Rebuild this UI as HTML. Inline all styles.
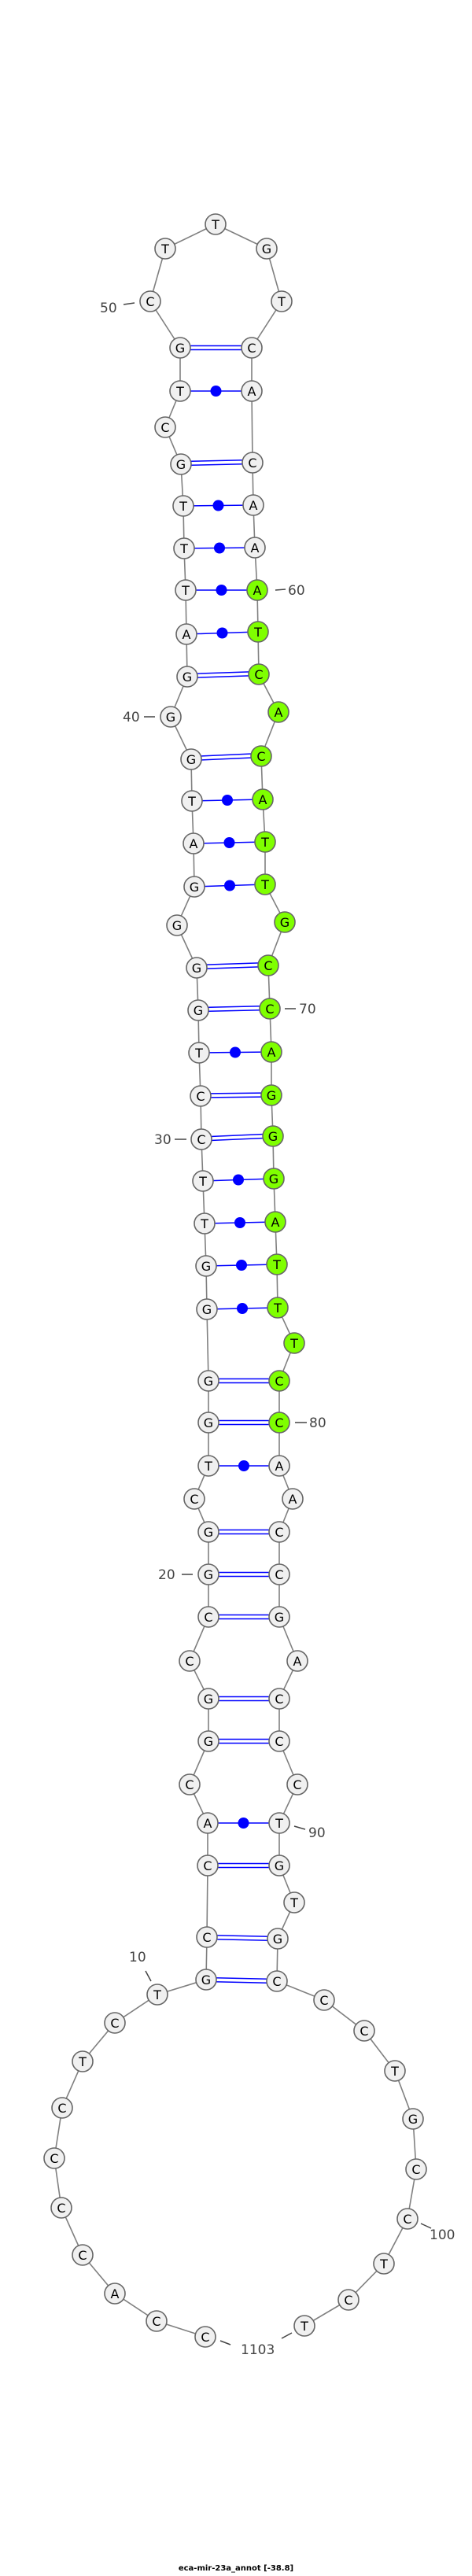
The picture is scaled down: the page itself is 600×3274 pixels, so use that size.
<!DOCTYPE html>
<html><head><meta charset="utf-8"><style>
html,body{margin:0;padding:0;background:#fff;}
svg{display:block;}
.b{fill:none;stroke:#808080;stroke-width:1.6;}
.n circle{fill:#f0f0f0;stroke:#666;stroke-width:1.6;}
.n circle.g{fill:#7fff00;}
.n text{font-family:"DejaVu Sans","Liberation Sans",sans-serif;font-size:16px;text-anchor:middle;fill:#000;}
.p{stroke:#0000ff;stroke-width:1.5;}
.d{fill:#0000ff;}
.l{font-family:"DejaVu Sans","Liberation Sans",sans-serif;font-size:17px;fill:#444;}
.t{stroke:#444;stroke-width:1.5;}
</style></head><body>
<svg width="600" height="3274" viewBox="0 0 600 3274" xmlns="http://www.w3.org/2000/svg">
<polyline class="b" points="261,2970 199,2950 146,2915 105,2866 78,2806 69,2743 79,2679 105,2620 146,2571 200,2535 262,2516 263,2462 264,2371 264,2317 241,2268 265,2213 265,2159 241,2111 265,2055 265,2001 265,1947 247,1905 265,1863 265,1808 265,1755 263,1664 262,1609 260,1555 258,1501 256,1448 255,1393 253,1338 252,1284 250,1230 225,1176 247,1127 246,1072 244,1018 243,965 217,911 238,860 237,806 236,750 234,697 233,643 230,590 210,543 229,497 229,442 191,383 210,316 274,285 339,316 358,383 320,442 320,497 321,588 322,642 324,696 327,750 328,803 329,857 354,905 332,961 334,1016 337,1070 337,1124 362,1172 341,1227 343,1282 345,1337 345,1392 347,1444 348,1498 350,1553 352,1607 353,1662 374,1707 355,1755 355,1808 355,1863 372,1905 355,1947 355,2001 355,2055 378,2111 355,2159 355,2213 378,2268 355,2317 355,2371 374,2418 353,2464 352,2518 412,2542 463,2581 502,2632 525,2693 529,2757 518,2820 488,2877 443,2923 387,2956"/>
<g>
<path class="p" fill="none" d="
M229,439.5L320,439.5M229,444.5L320,444.5
M230,586.5L321,584.5M230,591.5L321,589.5
M238,856.5L329,853.5M238,861.5L329,858.5
M243,961.5L332,957.5M243,966.5L332,962.5
M250,1226.5L341,1223.5M250,1231.5L341,1228.5
M252,1280.5L343,1278.5M252,1285.5L343,1283.5
M255,1390L345,1389M255,1395L345,1394
M256,1445L347,1441M256,1450L347,1446
M265,1752.5L355,1752.5M265,1757.5L355,1757.5
M265,1805.5L355,1805.5M265,1810.5L355,1810.5
M265,1944.5L355,1944.5M265,1949.5L355,1949.5
M265,1998.5L355,1998.5M265,2003.5L355,2003.5
M265,2052.5L355,2052.5M265,2057.5L355,2057.5
M265,2156.5L355,2156.5M265,2161.5L355,2161.5
M265,2210.5L355,2210.5M265,2215.5L355,2215.5
M264,2368.5L355,2368.5M264,2373.5L355,2373.5
M263,2459.5L353,2461.5M263,2464.5L353,2466.5
M262,2513.5L352,2515.5M262,2518.5L352,2520.5"/>
<path class="p" fill="none" d="
M229,497L320,497 M233,643L322,642 M234,697L324,696 M236,750L327,750 M237,806L328,803
M244,1018L334,1016 M246,1072L337,1070 M247,1127L337,1124 M253,1338L345,1337
M258,1501L348,1498 M260,1555L350,1553 M262,1609L352,1607 M263,1664L353,1662
M265,1863L355,1863 M264,2317L355,2317"/>
<circle class="d" cx="274.5" cy="497" r="7"/>
<circle class="d" cx="277.5" cy="642.5" r="7"/>
<circle class="d" cx="279" cy="696.5" r="7"/>
<circle class="d" cx="281.5" cy="750" r="7"/>
<circle class="d" cx="282.5" cy="804.5" r="7"/>
<circle class="d" cx="289" cy="1017" r="7"/>
<circle class="d" cx="291.5" cy="1071" r="7"/>
<circle class="d" cx="292" cy="1125.5" r="7"/>
<circle class="d" cx="299" cy="1337.5" r="7"/>
<circle class="d" cx="303" cy="1499.5" r="7"/>
<circle class="d" cx="305" cy="1554" r="7"/>
<circle class="d" cx="307" cy="1608" r="7"/>
<circle class="d" cx="308" cy="1663" r="7"/>
<circle class="d" cx="310" cy="1863" r="7"/>
<circle class="d" cx="309.5" cy="2317" r="7"/>
</g>
<g class="n">
<circle cx="261" cy="2970" r="13"/><text x="261" y="2976">C</text>
<circle cx="199" cy="2950" r="13"/><text x="199" y="2956">C</text>
<circle cx="146" cy="2915" r="13"/><text x="146" y="2921">A</text>
<circle cx="105" cy="2866" r="13"/><text x="105" y="2872">C</text>
<circle cx="78" cy="2806" r="13"/><text x="78" y="2812">C</text>
<circle cx="69" cy="2743" r="13"/><text x="69" y="2749">C</text>
<circle cx="79" cy="2679" r="13"/><text x="79" y="2685">C</text>
<circle cx="105" cy="2620" r="13"/><text x="105" y="2626">T</text>
<circle cx="146" cy="2571" r="13"/><text x="146" y="2577">C</text>
<circle cx="200" cy="2535" r="13"/><text x="200" y="2541">T</text>
<circle cx="262" cy="2516" r="13"/><text x="262" y="2522">G</text>
<circle cx="263" cy="2462" r="13"/><text x="263" y="2468">C</text>
<circle cx="264" cy="2371" r="13"/><text x="264" y="2377">C</text>
<circle cx="264" cy="2317" r="13"/><text x="264" y="2323">A</text>
<circle cx="241" cy="2268" r="13"/><text x="241" y="2274">C</text>
<circle cx="265" cy="2213" r="13"/><text x="265" y="2219">G</text>
<circle cx="265" cy="2159" r="13"/><text x="265" y="2165">G</text>
<circle cx="241" cy="2111" r="13"/><text x="241" y="2117">C</text>
<circle cx="265" cy="2055" r="13"/><text x="265" y="2061">C</text>
<circle cx="265" cy="2001" r="13"/><text x="265" y="2007">G</text>
<circle cx="265" cy="1947" r="13"/><text x="265" y="1953">G</text>
<circle cx="247" cy="1905" r="13"/><text x="247" y="1911">C</text>
<circle cx="265" cy="1863" r="13"/><text x="265" y="1869">T</text>
<circle cx="265" cy="1808" r="13"/><text x="265" y="1814">G</text>
<circle cx="265" cy="1755" r="13"/><text x="265" y="1761">G</text>
<circle cx="263" cy="1664" r="13"/><text x="263" y="1670">G</text>
<circle cx="262" cy="1609" r="13"/><text x="262" y="1615">G</text>
<circle cx="260" cy="1555" r="13"/><text x="260" y="1561">T</text>
<circle cx="258" cy="1501" r="13"/><text x="258" y="1507">T</text>
<circle cx="256" cy="1448" r="13"/><text x="256" y="1454">C</text>
<circle cx="255" cy="1393" r="13"/><text x="255" y="1399">C</text>
<circle cx="253" cy="1338" r="13"/><text x="253" y="1344">T</text>
<circle cx="252" cy="1284" r="13"/><text x="252" y="1290">G</text>
<circle cx="250" cy="1230" r="13"/><text x="250" y="1236">G</text>
<circle cx="225" cy="1176" r="13"/><text x="225" y="1182">G</text>
<circle cx="247" cy="1127" r="13"/><text x="247" y="1133">G</text>
<circle cx="246" cy="1072" r="13"/><text x="246" y="1078">A</text>
<circle cx="244" cy="1018" r="13"/><text x="244" y="1024">T</text>
<circle cx="243" cy="965" r="13"/><text x="243" y="971">G</text>
<circle cx="217" cy="911" r="13"/><text x="217" y="917">G</text>
<circle cx="238" cy="860" r="13"/><text x="238" y="866">G</text>
<circle cx="237" cy="806" r="13"/><text x="237" y="812">A</text>
<circle cx="236" cy="750" r="13"/><text x="236" y="756">T</text>
<circle cx="234" cy="697" r="13"/><text x="234" y="703">T</text>
<circle cx="233" cy="643" r="13"/><text x="233" y="649">T</text>
<circle cx="230" cy="590" r="13"/><text x="230" y="596">G</text>
<circle cx="210" cy="543" r="13"/><text x="210" y="549">C</text>
<circle cx="229" cy="497" r="13"/><text x="229" y="503">T</text>
<circle cx="229" cy="442" r="13"/><text x="229" y="448">G</text>
<circle cx="191" cy="383" r="13"/><text x="191" y="389">C</text>
<circle cx="210" cy="316" r="13"/><text x="210" y="322">T</text>
<circle cx="274" cy="285" r="13"/><text x="274" y="291">T</text>
<circle cx="339" cy="316" r="13"/><text x="339" y="322">G</text>
<circle cx="358" cy="383" r="13"/><text x="358" y="389">T</text>
<circle cx="320" cy="442" r="13"/><text x="320" y="448">C</text>
<circle cx="320" cy="497" r="13"/><text x="320" y="503">A</text>
<circle cx="321" cy="588" r="13"/><text x="321" y="594">C</text>
<circle cx="322" cy="642" r="13"/><text x="322" y="648">A</text>
<circle cx="324" cy="696" r="13"/><text x="324" y="702">A</text>
<circle class="g" cx="327" cy="750" r="13"/><text x="327" y="756">A</text>
<circle class="g" cx="328" cy="803" r="13"/><text x="328" y="809">T</text>
<circle class="g" cx="329" cy="857" r="13"/><text x="329" y="863">C</text>
<circle class="g" cx="354" cy="905" r="13"/><text x="354" y="911">A</text>
<circle class="g" cx="332" cy="961" r="13"/><text x="332" y="967">C</text>
<circle class="g" cx="334" cy="1016" r="13"/><text x="334" y="1022">A</text>
<circle class="g" cx="337" cy="1070" r="13"/><text x="337" y="1076">T</text>
<circle class="g" cx="337" cy="1124" r="13"/><text x="337" y="1130">T</text>
<circle class="g" cx="362" cy="1172" r="13"/><text x="362" y="1178">G</text>
<circle class="g" cx="341" cy="1227" r="13"/><text x="341" y="1233">C</text>
<circle class="g" cx="343" cy="1282" r="13"/><text x="343" y="1288">C</text>
<circle class="g" cx="345" cy="1337" r="13"/><text x="345" y="1343">A</text>
<circle class="g" cx="345" cy="1392" r="13"/><text x="345" y="1398">G</text>
<circle class="g" cx="347" cy="1444" r="13"/><text x="347" y="1450">G</text>
<circle class="g" cx="348" cy="1498" r="13"/><text x="348" y="1504">G</text>
<circle class="g" cx="350" cy="1553" r="13"/><text x="350" y="1559">A</text>
<circle class="g" cx="352" cy="1607" r="13"/><text x="352" y="1613">T</text>
<circle class="g" cx="353" cy="1662" r="13"/><text x="353" y="1668">T</text>
<circle class="g" cx="374" cy="1707" r="13"/><text x="374" y="1713">T</text>
<circle class="g" cx="355" cy="1755" r="13"/><text x="355" y="1761">C</text>
<circle class="g" cx="355" cy="1808" r="13"/><text x="355" y="1814">C</text>
<circle cx="355" cy="1863" r="13"/><text x="355" y="1869">A</text>
<circle cx="372" cy="1905" r="13"/><text x="372" y="1911">A</text>
<circle cx="355" cy="1947" r="13"/><text x="355" y="1953">C</text>
<circle cx="355" cy="2001" r="13"/><text x="355" y="2007">C</text>
<circle cx="355" cy="2055" r="13"/><text x="355" y="2061">G</text>
<circle cx="378" cy="2111" r="13"/><text x="378" y="2117">A</text>
<circle cx="355" cy="2159" r="13"/><text x="355" y="2165">C</text>
<circle cx="355" cy="2213" r="13"/><text x="355" y="2219">C</text>
<circle cx="378" cy="2268" r="13"/><text x="378" y="2274">C</text>
<circle cx="355" cy="2317" r="13"/><text x="355" y="2323">T</text>
<circle cx="355" cy="2371" r="13"/><text x="355" y="2377">G</text>
<circle cx="374" cy="2418" r="13"/><text x="374" y="2424">T</text>
<circle cx="353" cy="2464" r="13"/><text x="353" y="2470">G</text>
<circle cx="352" cy="2518" r="13"/><text x="352" y="2524">C</text>
<circle cx="412" cy="2542" r="13"/><text x="412" y="2548">C</text>
<circle cx="463" cy="2581" r="13"/><text x="463" y="2587">C</text>
<circle cx="502" cy="2632" r="13"/><text x="502" y="2638">T</text>
<circle cx="525" cy="2693" r="13"/><text x="525" y="2699">G</text>
<circle cx="529" cy="2757" r="13"/><text x="529" y="2763">C</text>
<circle cx="518" cy="2820" r="13"/><text x="518" y="2826">C</text>
<circle cx="488" cy="2877" r="13"/><text x="488" y="2883">T</text>
<circle cx="443" cy="2923" r="13"/><text x="443" y="2929">C</text>
<circle cx="387" cy="2956" r="13"/><text x="387" y="2962">T</text>
</g>
<g>
<line class="t" x1="157" y1="387" x2="171" y2="385"/><text class="l" x="127" y="397">50</text>
<line class="t" x1="350" y1="750" x2="363" y2="749"/><text class="l" x="366" y="756">60</text>
<line class="t" x1="183" y1="911" x2="197" y2="911"/><text class="l" x="156" y="917">40</text>
<line class="t" x1="362" y1="1282" x2="376" y2="1282"/><text class="l" x="380" y="1288">70</text>
<line class="t" x1="222" y1="1448" x2="237" y2="1448"/><text class="l" x="196" y="1454">30</text>
<line class="t" x1="375" y1="1808" x2="390" y2="1808"/><text class="l" x="393" y="1814">80</text>
<line class="t" x1="231" y1="2001" x2="245" y2="2001"/><text class="l" x="201" y="2007">20</text>
<line class="t" x1="374" y1="2321" x2="388" y2="2325"/><text class="l" x="392" y="2335">90</text>
<line class="t" x1="185" y1="2505" x2="192" y2="2518"/><text class="l" x="164" y="2493">10</text>
<line class="t" x1="535" y1="2826" x2="548" y2="2832"/><text class="l" x="546" y="2846">100</text>
<line class="t" x1="280" y1="2975" x2="293" y2="2980"/>
<line class="t" x1="358" y1="2972" x2="371" y2="2965"/>
<text class="l" x="306" y="2992">1103</text>
</g>
<text x="300" y="3267" text-anchor="middle" style="font-family:'DejaVu Sans','Liberation Sans',sans-serif;font-size:10px;font-weight:bold;fill:#000">eca-mir-23a_annot [-38.8]</text>
</svg>
</body></html>
